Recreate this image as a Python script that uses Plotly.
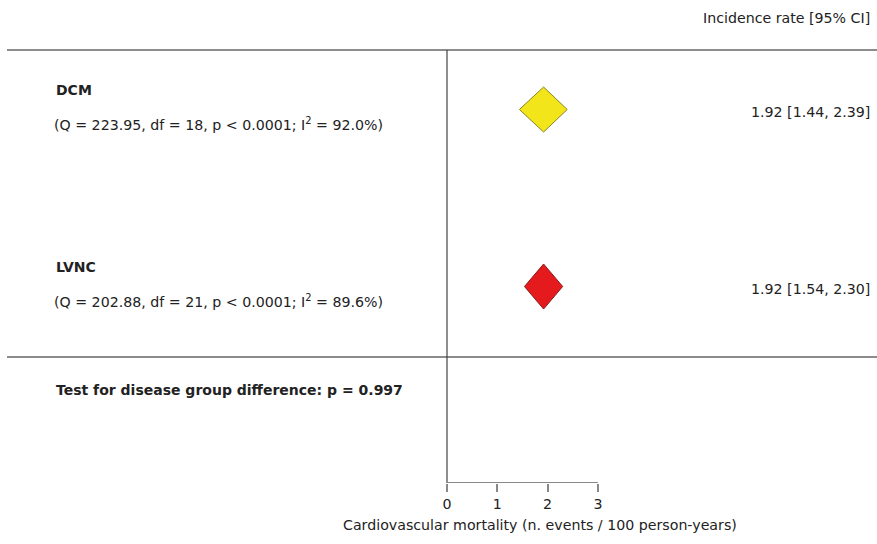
import plotly.graph_objects as go

groups = ["DCM", "LVNC"]
estimates = [1.92, 1.92]
ci_lower = [1.44, 1.54]
ci_upper = [2.39, 2.30]
q_stat = [223.95, 202.88]
df_vals = [18, 21]
p_het = ["< 0.0001", "< 0.0001"]
i2_vals = [92.0, 89.6]
fill_colors = ["#f2e61a", "#e41a1c"]
line_colors = ["#8c8420", "#8a1c1c"]
test_p = 0.997
tick_vals = [0, 1, 2, 3]
header = "Incidence rate [95% CI]"
x_title = "Cardiovascular mortality (n. events / 100 person-years)"

W, H = 877, 544
x0_px, px_per_unit = 447, 50.3
plot_bottom = 483
FONT = "DejaVu Sans, Verdana, sans-serif"
FS = 14.2
FSB = 14
TXT = "#222222"

# row layout (pixel-like units on reversed y axis)
row_center0, row_gap = 109.5, 177
diamond_half_h = 22.5

fig = go.Figure()
ann = []
for i, g in enumerate(groups):
    c = row_center0 + i * row_gap
    fig.add_trace(go.Scatter(
        x=[ci_lower[i], estimates[i], ci_upper[i], estimates[i], ci_lower[i]],
        y=[c, c - diamond_half_h, c, c + diamond_half_h, c],
        mode="lines", fill="toself", fillcolor=fill_colors[i],
        line=dict(color=line_colors[i], width=1), hoverinfo="skip", showlegend=False))
    ann.append(dict(x=54 / W, xref="paper", y=c - 19.5, yref="y", text="<b>%s</b>" % g,
                    showarrow=False, xanchor="left", yanchor="middle",
                    font=dict(size=FSB, color=TXT, family=FONT)))
    ann.append(dict(x=52 / W, xref="paper", y=c + 14, yref="y",
                    text="(Q = %.2f, df = %d, p %s; I<sup>2</sup> = %.1f%%)" % (q_stat[i], df_vals[i], p_het[i], i2_vals[i]),
                    showarrow=False, xanchor="left", yanchor="middle",
                    font=dict(size=FS, color=TXT, family=FONT)))
    ann.append(dict(x=872 / W, xref="paper", y=c + 2, yref="y",
                    text="%.2f [%.2f, %.2f]" % (estimates[i], ci_lower[i], ci_upper[i]),
                    showarrow=False, xanchor="right", yanchor="middle",
                    font=dict(size=FS, color=TXT, family=FONT)))

ann.append(dict(x=872 / W, xref="paper", y=18, yref="y", text=header, showarrow=False,
                xanchor="right", yanchor="middle", font=dict(size=FS, color=TXT, family=FONT)))
ann.append(dict(x=54 / W, xref="paper", y=390, yref="y",
                text="<b>Test for disease group difference: p = %.3f</b>" % test_p, showarrow=False,
                xanchor="left", yanchor="middle", font=dict(size=FSB, color=TXT, family=FONT)))
ann.append(dict(x=(tick_vals[0] + tick_vals[-1]) / 2, xref="x", xshift=18, y=-0.066, yref="paper",
                text=x_title, showarrow=False, xanchor="center", yanchor="top",
                font=dict(size=FS, color=TXT, family=FONT)))

shapes = [
    dict(type="line", xref="paper", yref="y", x0=7 / W, x1=1, y0=50, y1=50, line=dict(color="#666666", width=1.6)),
    dict(type="line", xref="paper", yref="y", x0=7 / W, x1=1, y0=357, y1=357, line=dict(color="#666666", width=1.6)),
    dict(type="line", xref="x", yref="y", x0=0, x1=0, y0=50, y1=plot_bottom, line=dict(color="#444444", width=1.2)),
    dict(type="line", xref="x", yref="y", x0=tick_vals[0], x1=tick_vals[-1], y0=plot_bottom, y1=plot_bottom,
         line=dict(color="#888888", width=1.8)),
]

fig.update_layout(
    width=W, height=H, margin=dict(l=0, r=0, t=0, b=H - plot_bottom),
    paper_bgcolor="white", plot_bgcolor="white",
    xaxis=dict(range=[-x0_px / px_per_unit, (W - x0_px) / px_per_unit], showgrid=False, zeroline=False,
               showline=False, tickvals=tick_vals, ticks="outside", ticklen=8, tickcolor="#888888",
               tickwidth=1.6, tickfont=dict(size=FS, color=TXT, family=FONT), fixedrange=True),
    yaxis=dict(range=[plot_bottom, 0], showgrid=False, zeroline=False, showline=False,
               showticklabels=False, ticks="", fixedrange=True),
    annotations=ann, shapes=shapes, showlegend=False,
)
fig.write_html("out.html", config={"displayModeBar": False},
               post_script="document.body.style.margin='0px';")
